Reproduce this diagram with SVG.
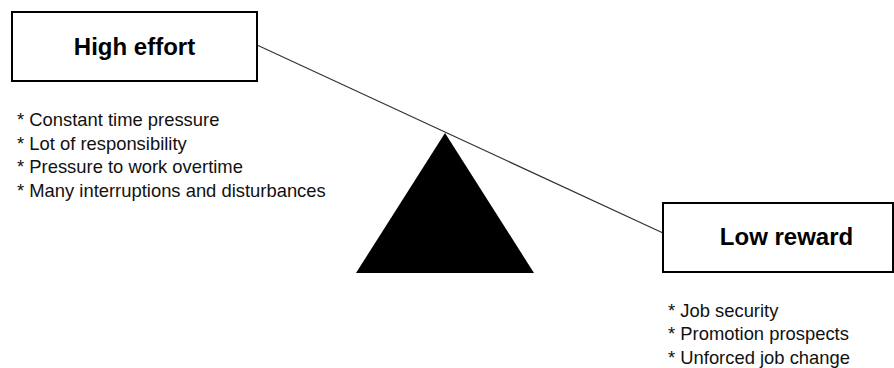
<svg xmlns="http://www.w3.org/2000/svg" width="894" height="368" viewBox="0 0 894 368">
<style>
.box{fill:#fff;stroke:#000;stroke-width:2}
.title{font-family:"Liberation Sans",Arial,sans-serif;font-size:24px;font-weight:bold;fill:#000;text-anchor:middle}
.item{font-family:"Liberation Sans",Arial,sans-serif;font-size:18.4px;fill:#111}
.beam{stroke:#333;stroke-width:1.2;fill:none}
</style>
<rect width="894" height="368" fill="#fff"/>
<g id="connectors">
<line class="beam" x1="257" y1="45" x2="663" y2="233"/>
</g>
<g id="fulcrum">
<polygon points="445,133 356,273 534,273" fill="#000"/>
</g>
<g id="high-effort">
<rect class="box" x="12" y="12" width="245" height="69"/>
<text class="title" x="134.5" y="54.5">High effort</text>
</g>
<g id="effort-items">
<text class="item" x="17" y="126">* Constant time pressure</text>
<text class="item" x="17" y="149.5">* Lot of responsibility</text>
<text class="item" x="17" y="173">* Pressure to work overtime</text>
<text class="item" x="17" y="197">* Many interruptions and disturbances</text>
</g>
<g id="low-reward">
<rect class="box" x="663" y="203" width="230" height="69"/>
<text class="title" x="786.5" y="245">Low reward</text>
</g>
<g id="reward-items">
<text class="item" x="668" y="316.5">* Job security</text>
<text class="item" x="668" y="340">* Promotion prospects</text>
<text class="item" x="668" y="363.5">* Unforced job change</text>
</g>
</svg>
